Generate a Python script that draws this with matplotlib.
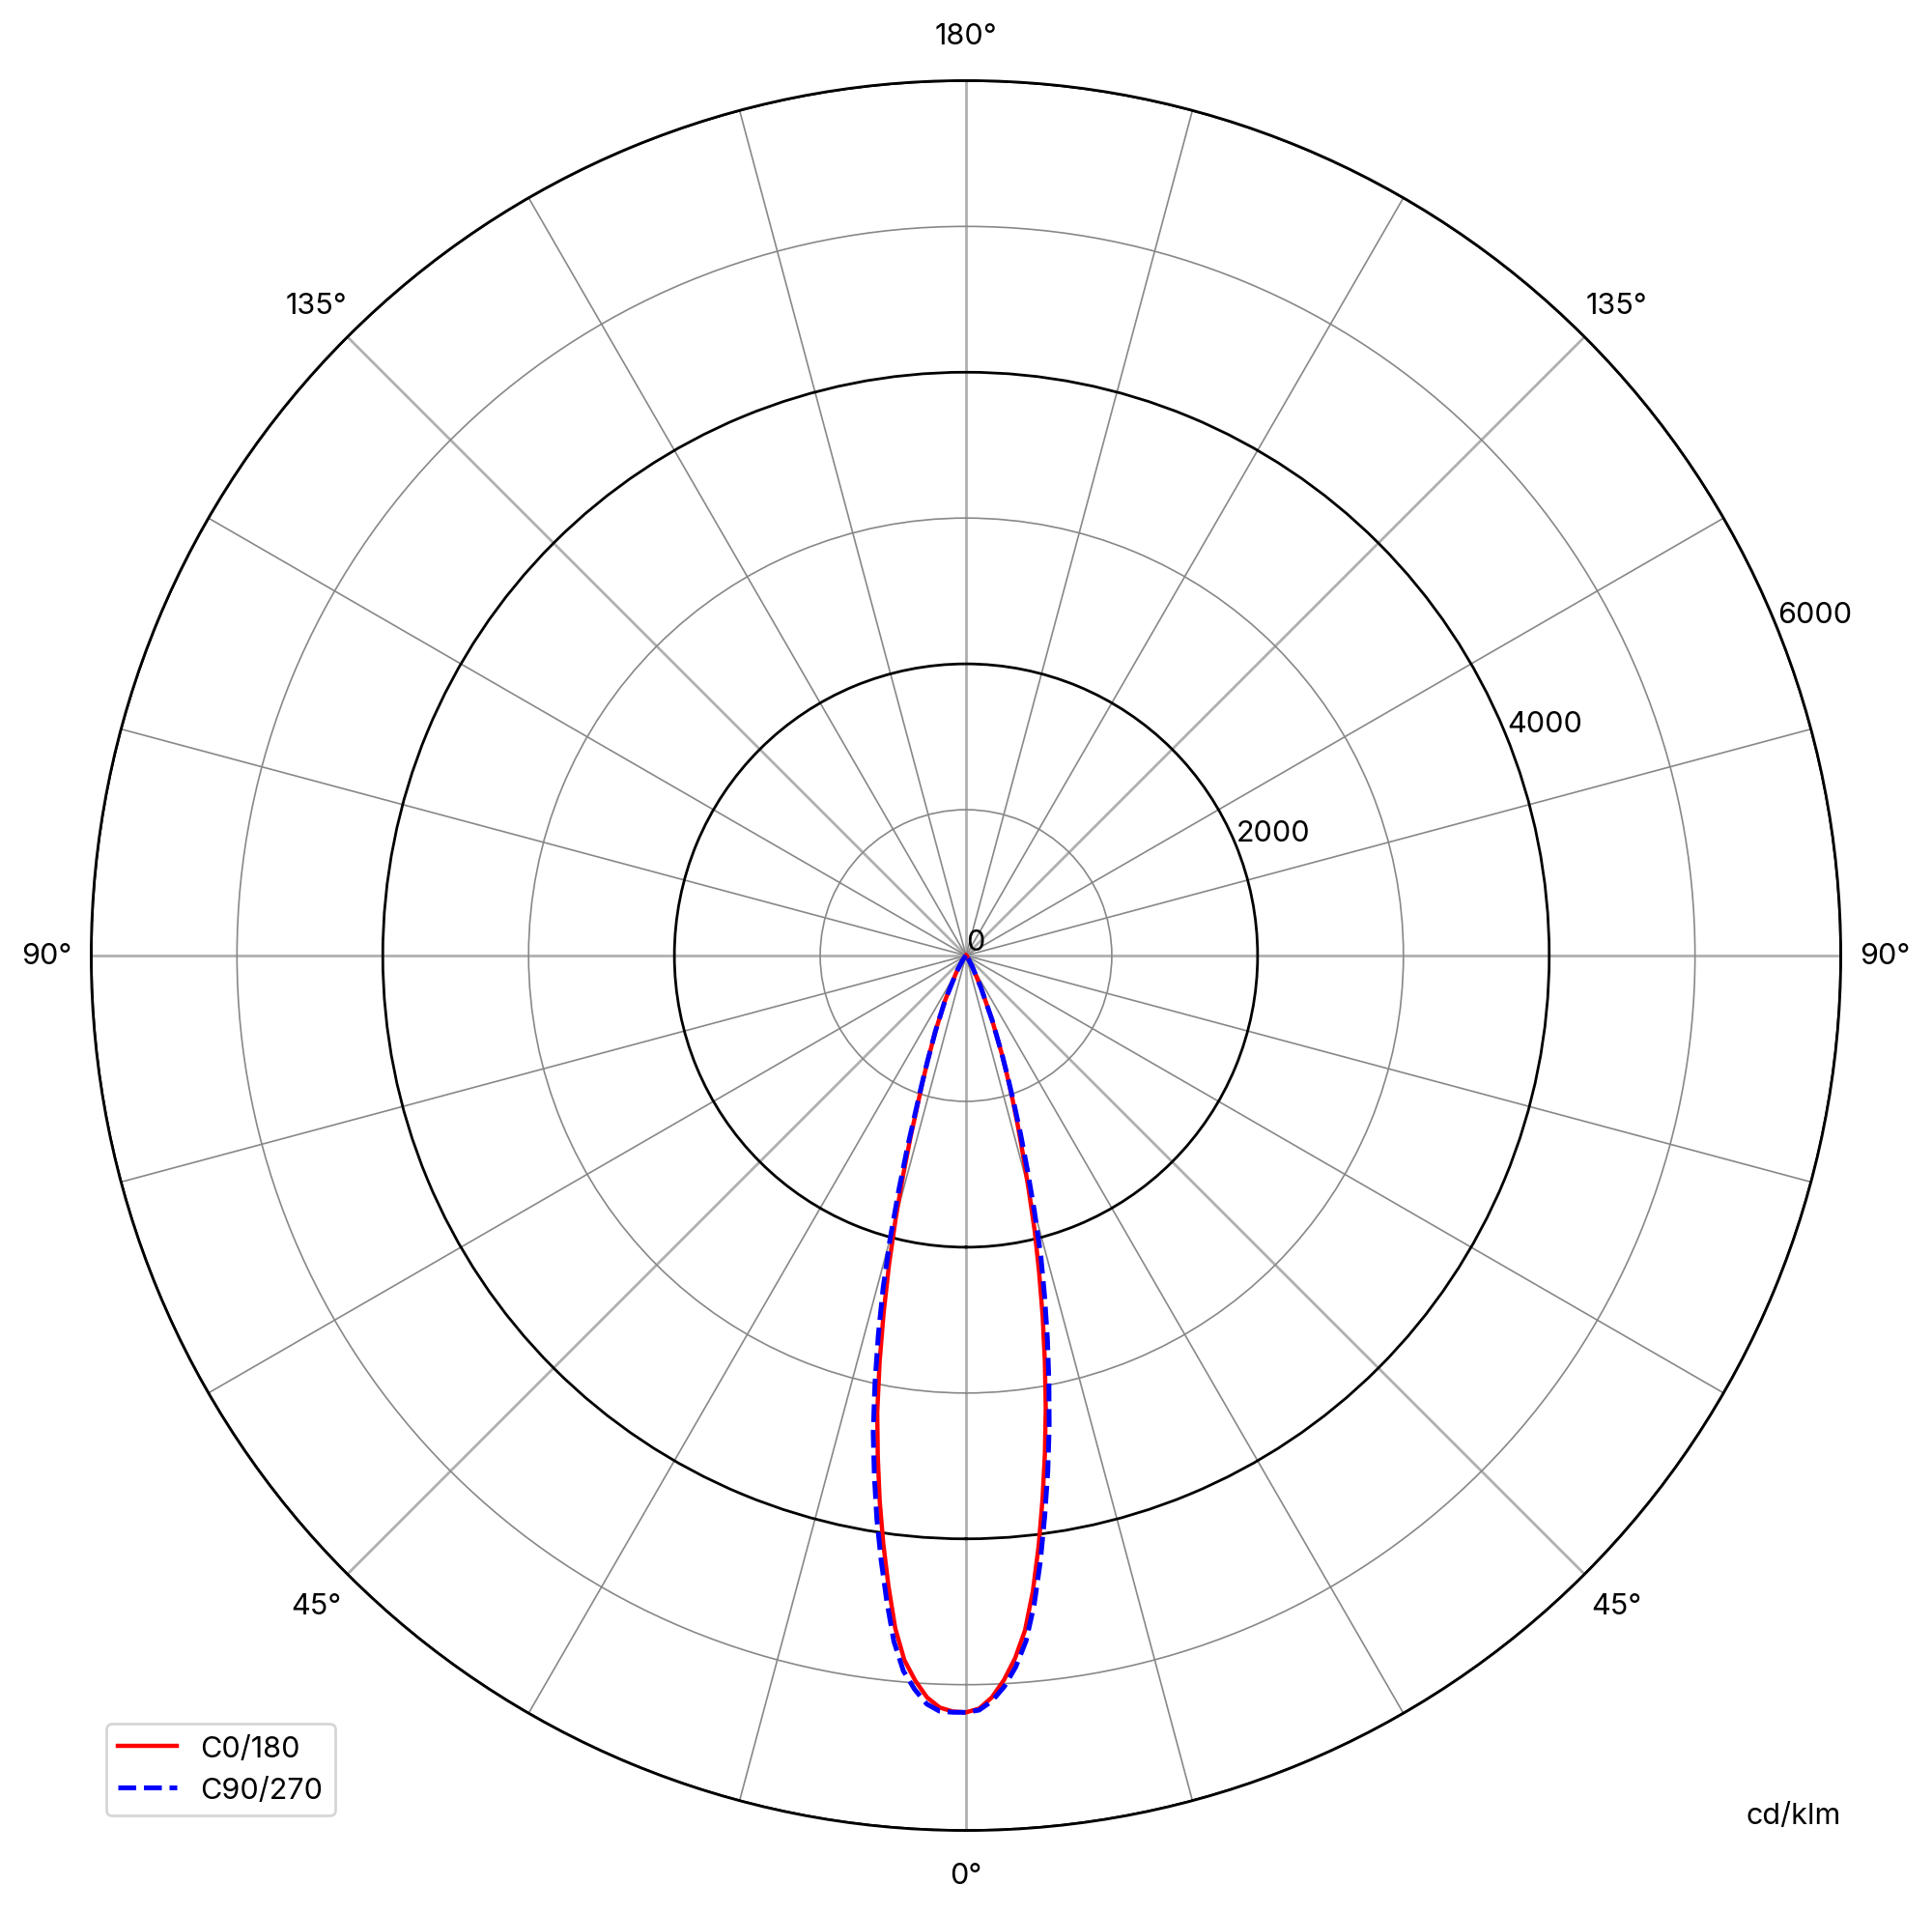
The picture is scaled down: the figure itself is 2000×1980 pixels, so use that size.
import numpy as np
import matplotlib
matplotlib.use("Agg")
import matplotlib.pyplot as plt
from matplotlib.ticker import FixedLocator

plt.rcParams['font.family'] = ['Inter', 'DejaVu Sans']
plt.rcParams['font.size'] = 11

# gamma angles (deg) and intensities (cd/klm)
gamma = [0, 1, 2, 3, 4, 5, 6, 7, 8, 9, 10, 11, 12, 13, 14, 15, 16, 17, 18, 19, 20,
         22, 25, 30, 35, 40, 45, 50, 60, 70, 80, 90]
c0 = [5190, 5165, 5090, 4975, 4830, 4645, 4385, 4085, 3770, 3460, 3150, 2835, 2530,
      2230, 1950, 1660, 1415, 1210, 1025, 860, 720, 480, 240, 80, 25, 5, 0, 0, 0, 0, 0, 0]
c180 = [5190, 5185, 5160, 5095, 4985, 4850, 4640, 4360, 4075, 3785, 3485, 3190, 2850,
        2510, 2180, 1860, 1560, 1300, 1070, 910, 770, 560, 340, 130, 45, 10, 0, 0, 0, 0, 0, 0]
c90 = [5190, 5175, 5115, 5020, 4890, 4720, 4475, 4185, 3880, 3585, 3285, 2980, 2685,
       2395, 2120, 1810, 1525, 1280, 1060, 875, 725, 480, 240, 80, 25, 5, 0, 0, 0, 0, 0, 0]
c270 = [5190, 5190, 5185, 5140, 5045, 4925, 4730, 4460, 4185, 3910, 3620, 3335, 3005,
        2675, 2350, 2010, 1670, 1370, 1105, 925, 775, 560, 340, 130, 45, 10, 0, 0, 0, 0, 0, 0]

r_major = [0, 2000, 4000, 6000]
r_minor = [1000, 3000, 5000]


def both_sides(right, left):
    g = np.array(gamma, dtype=float)
    th = np.deg2rad(np.concatenate([-g[::-1], g]))
    r = np.concatenate([np.array(left)[::-1], np.array(right)])
    return th, r


fig = plt.figure(figsize=(10, 9.905), dpi=200)
ax = fig.add_axes([0.0472, 0.0431, 0.9056, 0.9143], projection='polar')
ax.set_theta_zero_location('S')

th, r = both_sides(c0, c180)
ax.plot(th, r, color='red', lw=1.6, label='C0/180')
th, r = both_sides(c90, c270)
ax.plot(th, r, color='blue', lw=1.8, ls='--', label='C90/270')

ax.set_rlim(0, 6000)
ax.set_rticks(r_major)
ax.set_yticklabels([str(v) for v in r_major])
ax.yaxis.set_minor_locator(FixedLocator(r_minor))
ax.set_rlabel_position(112.0)

major_deg = list(range(0, 360, 45))
ax.set_xticks(np.deg2rad(major_deg))
ax.set_xticklabels([f"{d if d <= 180 else 360 - d}°" for d in major_deg])
ax.xaxis.set_minor_locator(FixedLocator(np.deg2rad(range(0, 360, 15))))

ax.grid(which='major', axis='x', color='#b0b0b0', lw=1.0)
ax.grid(which='minor', axis='x', color='#888888', lw=0.6)
ax.grid(which='major', axis='y', color='black', lw=1.0)
ax.grid(which='minor', axis='y', color='#888888', lw=0.6)
ax.tick_params(which='both', length=0)
ax.tick_params(axis='x', pad=9.6)

ax.spines['polar'].set_color('black')
ax.spines['polar'].set_linewidth(1.0)

ax.legend(loc='lower left')
fig.text(0.9285, 0.051, 'cd/klm', ha='center', va='center')

fig.savefig('out.png')
